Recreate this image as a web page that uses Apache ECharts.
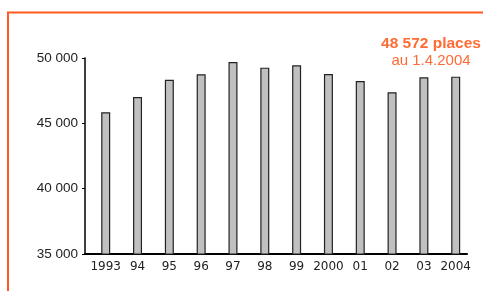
<!DOCTYPE html>
<html>
<head>
<meta charset="utf-8">
<script src="https://cdn.jsdelivr.net/npm/echarts@6/dist/echarts.min.js"></script>
<style>
  html, body { margin: 0; padding: 0; background: #fff; }
  #chart { width: 483px; height: 291px; }
</style>
</head>
<body>
<div id="chart"></div>
<script>
// places par année
const years = [1993, 1994, 1995, 1996, 1997, 1998, 1999, 2000, 2001, 2002, 2003, 2004];
const yearLabels = ["1993", "94", "95", "96", "97", "98", "99", "2000", "01", "02", "03", "2004"];
const places = [45850, 47020, 48340, 48750, 49690, 49260, 49440, 48780, 48240, 47380, 48520, 48572];
const yTicks = [35000, 40000, 45000, 50000];

const chart = echarts.init(document.getElementById("chart"));

const fmt = (v) => String(v).replace(/\B(?=(\d{3})+(?!\d))/g, " ");

const option = {
  animation: false,
  title: {
    text: "48 572 places",
    subtext: "au 1.4.2004",
    left: 426,
    textAlign: "center",
    top: 31,
    itemGap: 1,
    textStyle: {
      fontFamily: "Liberation Sans",
      fontSize: 15.5,
      fontWeight: "bold",
      color: "#ff6b35",
    },
    subtextStyle: {
      fontFamily: "Liberation Sans",
      fontSize: 15,
      color: "#ff6b35",
    },
  },
  graphic: [
    {
      type: "polyline",
      shape: { points: [[8, 300], [8, 12.5], [490, 12.5]] },
      style: { stroke: "#ff5a1f", lineWidth: 2, fill: null },
      silent: true,
    },
  ],
  grid: { left: 85, right: 16, top: 58, bottom: 37 },
  xAxis: {
    type: "value",
    min: 1992.349,
    max: 2004.355,
    axisLine: { show: true, lineStyle: { color: "#000", width: 2 } },
    axisTick: { show: false },
    splitLine: { show: false },
    axisLabel: {
      customValues: years,
      margin: 7,
      fontFamily: "DejaVu Sans",
      fontSize: 12,
      color: "#222",
      formatter: (v) => yearLabels[years.indexOf(Math.round(v))] || "",
    },
  },
  yAxis: {
    type: "value",
    min: yTicks[0],
    max: yTicks[yTicks.length - 1],
    interval: 5000,
    axisLine: { show: true, lineStyle: { color: "#000", width: 1.5 } },
    axisTick: { show: true, length: 3, lineStyle: { color: "#000" } },
    splitLine: { show: false },
    axisLabel: {
      margin: 7,
      fontFamily: "Liberation Sans",
      fontSize: 13.5,
      color: "#222",
      formatter: (v) => fmt(v),
    },
  },
  series: [
    {
      type: "bar",
      barWidth: 9,
      data: years.map((y, i) => [y, places[i]]),
      itemStyle: { color: "#c0c0c0", borderColor: "#222", borderWidth: 1.2 },
    },
  ],
};

chart.setOption(option);
</script>
</body>
</html>
